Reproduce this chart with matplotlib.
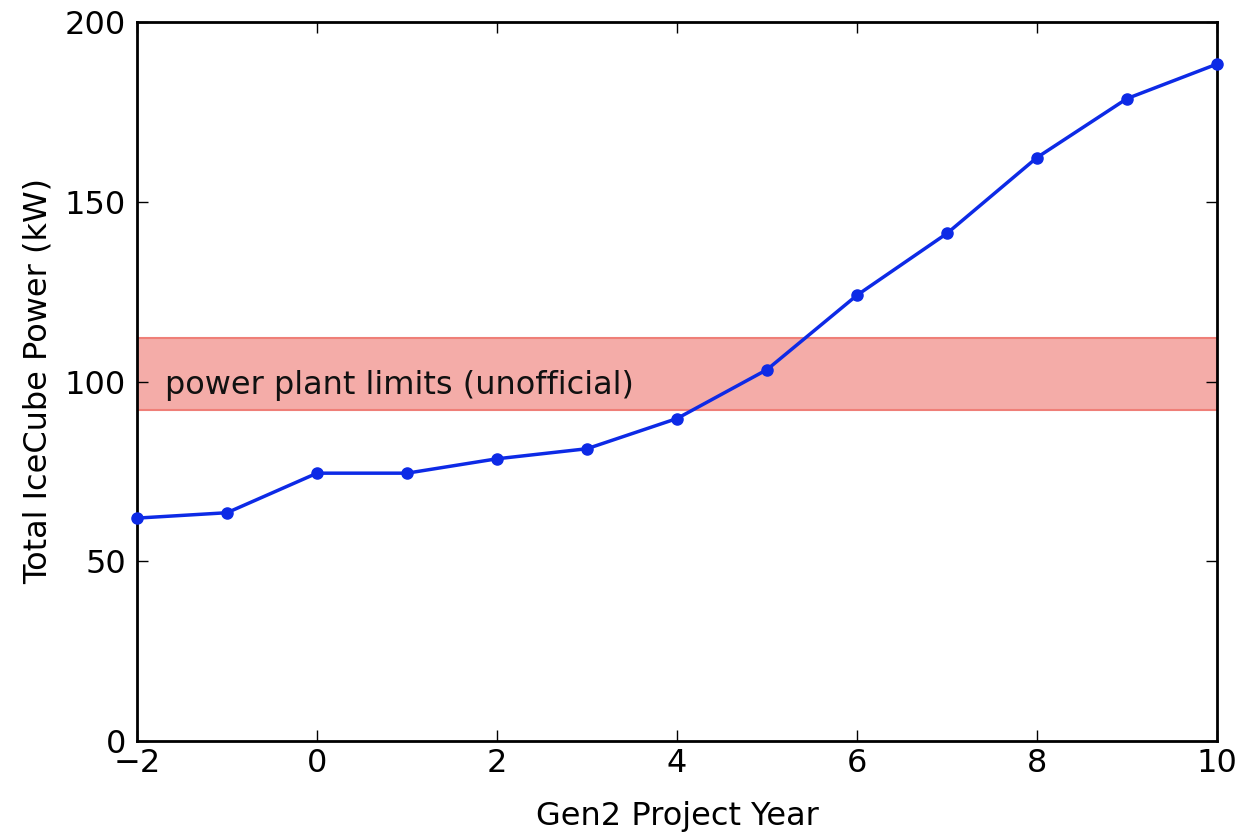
import matplotlib
matplotlib.use("Agg")
import matplotlib.pyplot as plt

years = [-2, -1, 0, 1, 2, 3, 4, 5, 6, 7, 8, 9, 10]
power = [62, 63.5, 74.5, 74.5, 78.5, 81.3, 89.7, 103.3, 124, 141.2, 162.3, 178.7, 188.3]
limitLow = 92
limitHigh = 112

plt.rcParams['font.family'] = 'DejaVu Sans'
fig = plt.figure(figsize=(12.42, 8.36), dpi=100)
ax = fig.add_axes([137/1242, 1-741/836, (1217-137)/1242, (741-22)/836])

ax.axhspan(limitLow, limitHigh, facecolor='#f4aca8', edgecolor='#ef7f78', linewidth=1.5, zorder=1)
ax.text(-1.69, 99, "power plant limits (unofficial)", fontsize=23, va='center', ha='left', color='#111111', zorder=3)
ax.plot(years, power, color='#0d2ae6', linewidth=2.5, marker='o', markersize=8, zorder=4, clip_on=False)

ax.set_xlim(-2, 10)
ax.set_ylim(0, 200)
ax.set_xticks(range(-2, 11, 2))
ax.set_yticks(range(0, 201, 50))
ax.tick_params(direction='in', top=True, right=True, labelsize=23, length=8, width=1)
ax.tick_params(axis='x', pad=5)
ax.tick_params(axis='y', pad=8)
for s in ax.spines.values():
    s.set_linewidth(2)
ax.set_xlabel("Gen2 Project Year", fontsize=23, labelpad=16)
ax.set_ylabel("Total IceCube Power (kW)", fontsize=23, labelpad=8)

fig.savefig("out.png", dpi=100)
